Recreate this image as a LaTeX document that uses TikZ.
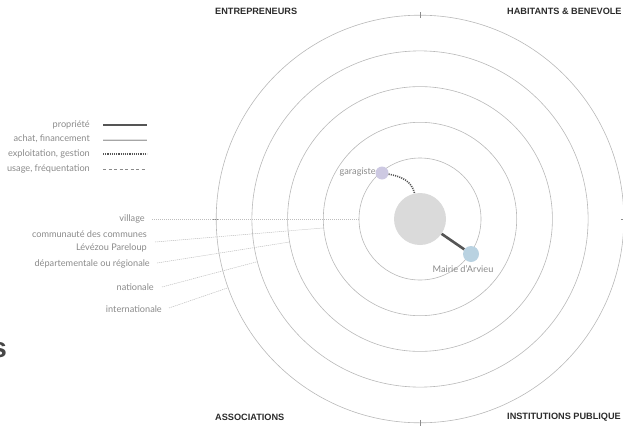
\documentclass[tikz,border=0pt]{standalone}
\usepackage{fontspec}
\setmainfont{Lato}
\newfontfamily\headf{Liberation Sans}
\usetikzlibrary{calc}
\definecolor{ringc}{HTML}{B8B8B8}
\definecolor{leadc}{HTML}{BDBDBD}
\definecolor{labc}{HTML}{8A8A8A}
\definecolor{darkc}{HTML}{555555}
\definecolor{headc}{HTML}{2B2B2B}
\definecolor{discc}{HTML}{DADADA}
\definecolor{garc}{HTML}{CDC9E2}
\definecolor{mairc}{HTML}{B9D2E1}
\definecolor{tickc}{HTML}{8C8C8C}
\tikzset{
  ring/.style={draw=ringc, line width=0.6bp},
  leader/.style={draw=leadc, line width=0.5bp, dash pattern=on 1.2bp off 0.8bp},
  tickmark/.style={draw=tickc, line width=0.7bp},
  lab/.style={font=\fontsize{9.2}{12.7}\selectfont, text=labc, inner sep=0pt},
  head/.style={font=\headf\bfseries\fontsize{9.2}{10}\selectfont, text=headc, inner sep=0pt, anchor=west},
  prop/.style={draw=darkc, line width=2.6bp},
  achat/.style={draw=black!35, line width=0.5bp, double=black!12, double distance=1bp},
  expl/.style={draw=darkc, line width=1.6bp, dash pattern=on 1.1bp off 1.1bp},
  usage/.style={draw=labc, line width=0.5bp, dash pattern=on 3bp off 2.5bp},
  dot/.style={circle, inner sep=0pt}
}
\begin{document}
\begin{tikzpicture}[x=1bp,y=1bp]
\useasboundingbox (0,0) rectangle (623,425);
\coordinate (O) at (420,206);
% rings
\foreach \r in {61,96.7,132.4,168.1,203.8}{
  \draw[ring] (O) circle[radius=\r bp];
}
% ticks on the outer ring
\foreach \a in {0,90,180,270}{
  \draw[tickmark] ($(O)+(\a:200.8bp)$) -- ($(O)+(\a:206.8bp)$);
}
% corner headings
\node[head] (hE) at (215,414) {ENTREPRENEURS};
\node[head] (hH) at (507,414) {HABITANTS \& BENEVOLE};
\node[head] (hA) at (215,8) {ASSOCIATIONS};
\node[head] (hI) at (507,8) {INSTITUTIONS PUBLIQUE};
% partial big letter at the left edge
\node[font=\headf\bfseries\fontsize{28}{30}\selectfont, text=black!72, inner sep=0pt, anchor=base east] (bigs) at (7,68) {s};
% legend
\node[lab, anchor=east] (l1) at (90,300) {propriété};
\node[lab, anchor=east] (l2) at (90,286) {achat, financement};
\node[lab, anchor=east] (l3) at (90,271) {exploitation, gestion};
\node[lab, anchor=east] (l4) at (90,256) {usage, fréquentation};
\draw[prop] (103,300) -- (147,300);
\draw[achat] (103,285.5) -- (147,285.5);
\draw[expl] (103,271) -- (147,271);
\draw[usage] (103,256) -- (147,256);
% scale labels
\node[lab, anchor=east] (v1) at (145,206) {village};
\node[lab, anchor=east, align=right] (v2) at (147,183.5) {communauté des communes\\Lévézou Pareloup};
\node[lab, anchor=east] (v3) at (150,161) {départementale ou régionale};
\node[lab, anchor=east] (v4) at (154,138) {nationale};
\node[lab, anchor=east] (v5) at (162,116) {internationale};
\coordinate (s1) at (152,206);
\coordinate (s2) at (155,183);
\coordinate (s3) at (157,162);
\coordinate (s4) at (162,138);
\coordinate (s5) at (169,117);
\coordinate (e1) at ($(O)+(180:61bp)$);
\coordinate (e2) at ($(O)+(185.3:96.7bp)$);
\coordinate (e3) at ($(O)+(190:132.4bp)$);
\coordinate (e4) at ($(O)+(194.7:168.1bp)$);
\coordinate (e5) at ($(O)+(199.7:203.8bp)$);
\draw[leader] (s1) -- (e1);
\draw[leader] (s2) -- (e2);
\draw[leader] (s3) -- (e3);
\draw[leader] (s4) -- (e4);
\draw[leader] (s5) -- (e5);
% actors
\node[dot, fill=discc, minimum size=52bp] (C) at (O) {};
\node[dot, fill=garc, minimum size=13bp] (G) at (382,252) {};
\node[dot, fill=mairc, minimum size=16bp] (M) at (471,171) {};
\node[lab, anchor=east] (Gl) at (376,253) {garagiste};
\node[lab] (Ml) at (463,155.5) {Mairie d'Arvieu};
\draw[prop] (C) -- (M);
\draw[expl] (G) to[out=-10, in=102] (C);
\end{tikzpicture}
\end{document}
